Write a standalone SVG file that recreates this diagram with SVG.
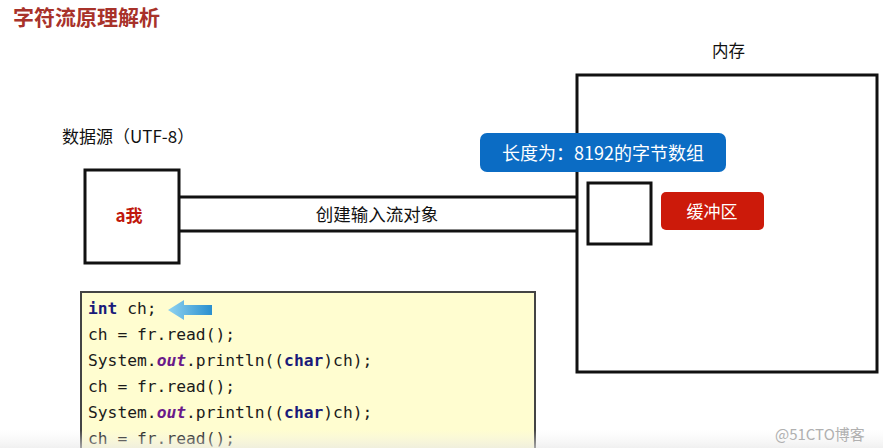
<svg xmlns="http://www.w3.org/2000/svg" width="883" height="448" viewBox="0 0 883 448">
<defs>
<style>
.cjk{font-family:"Noto Sans CJK SC","Noto Sans",sans-serif}
.box{fill:#fff;stroke:#111;stroke-width:3}
.code{font-family:"DejaVu Sans Mono","Liberation Mono",monospace;font-size:16.3px;fill:#1a1a1a}
.kw{fill:#1a1a7a;font-weight:bold}
.it{fill:#6a1a8a;font-style:italic;font-weight:bold}
</style>
<linearGradient id="arrowg" x1="0" y1="0" x2="1" y2="0">
<stop offset="0" stop-color="#8fd3f0"/><stop offset="1" stop-color="#2a8fcf"/>
</linearGradient>
<linearGradient id="fog" x1="0" y1="0" x2="0" y2="1">
<stop offset="0" stop-color="#f0f0f0" stop-opacity="0"/><stop offset="1" stop-color="#e6e6e6" stop-opacity="0.6"/>
</linearGradient>
</defs>
<rect width="883" height="448" fill="#fff"/>
<text x="13" y="25" class="cjk" font-size="21" font-weight="bold" fill="#a8322a">字符流原理解析</text>
<g id="memory">
<rect class="box" x="577" y="75" width="300" height="297"/>
<text x="712" y="57" class="cjk" font-size="16.5" fill="#111">内存</text>
</g>
<g id="source">
<text x="62" y="143" class="cjk" font-size="17" fill="#111">数据源（UTF-8）</text>
<rect class="box" x="85" y="170" width="94" height="93"/>
<text x="129" y="222" text-anchor="middle" class="cjk" font-size="17" font-weight="bold" fill="#c0180c">a我</text>
</g>
<g id="connectors">
<line x1="179" y1="197" x2="577" y2="197" stroke="#111" stroke-width="3"/>
<line x1="179" y1="231" x2="577" y2="231" stroke="#111" stroke-width="3"/>
<text x="377" y="221" text-anchor="middle" class="cjk" font-size="17.5" fill="#111">创建输入流对象</text>
</g>
<g id="length-label">
<rect x="480" y="133" width="246" height="39" rx="7" fill="#0b6cc4"/>
<text x="603" y="160" text-anchor="middle" class="cjk" font-size="18" fill="#fff">长度为：8192的字节数组</text>
</g>
<g id="buffer">
<rect class="box" x="588" y="183" width="63" height="61"/>
</g>
<g id="buffer-label">
<rect x="661" y="192" width="103" height="38" rx="5" fill="#cc1a0a"/>
<text x="712" y="218" text-anchor="middle" class="cjk" font-size="17" fill="#fff">缓冲区</text>
</g>
<g id="code">
<rect x="81" y="292" width="454" height="170" fill="#fffdd0" stroke="#444" stroke-width="2"/>
<text x="88" y="314" class="code"><tspan class="kw">int</tspan> ch;</text>
<text x="88" y="340" class="code">ch = fr.read();</text>
<text x="88" y="366" class="code">System.<tspan class="it">out</tspan>.println((<tspan class="kw">char</tspan>)ch);</text>
<text x="88" y="392" class="code">ch = fr.read();</text>
<text x="88" y="418" class="code">System.<tspan class="it">out</tspan>.println((<tspan class="kw">char</tspan>)ch);</text>
<text x="88" y="444" class="code">ch = fr.read();</text>
<polygon points="168,310 184,300 184,305 212,305 212,315 184,315 184,320" fill="url(#arrowg)"/>
</g>
<rect x="0" y="430" width="883" height="18" fill="url(#fog)"/>
<text x="775" y="440" class="cjk" font-size="15" fill="#b0b0b0">@51CTO博客</text>
</svg>
